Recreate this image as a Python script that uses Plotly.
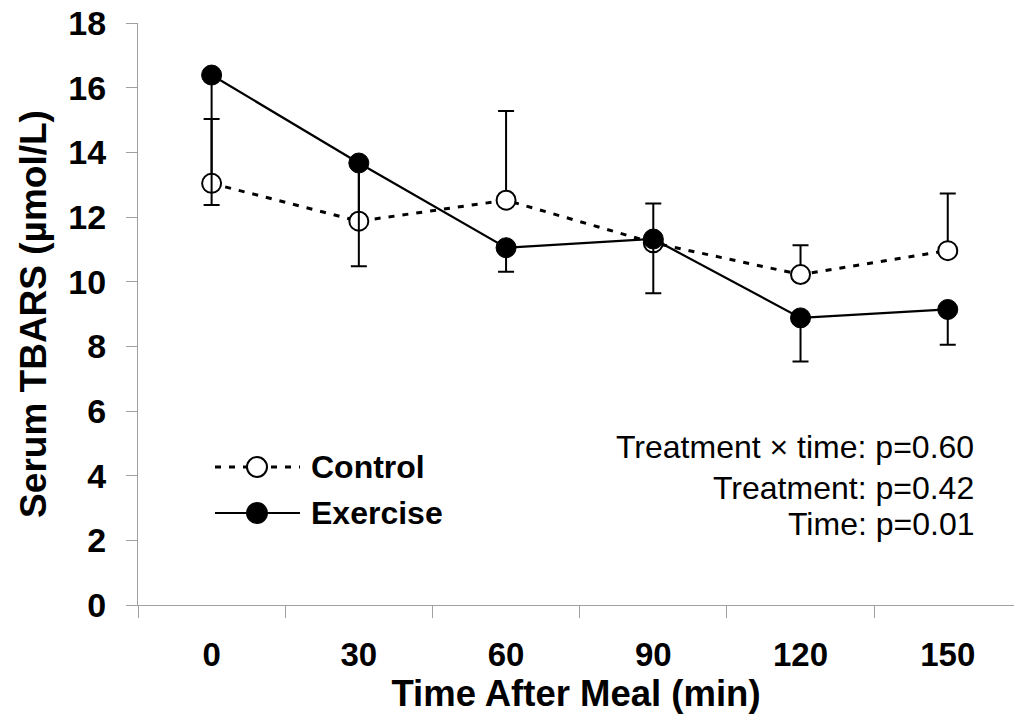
import plotly.graph_objects as go

times = ["0", "30", "60", "90", "120", "150"]
control_mean = [13.04, 11.87, 12.52, 11.20, 10.22, 10.96]
control_upper = [15.03, 13.60, 15.28, 12.42, 11.13, 12.73]
exercise_mean = [16.39, 13.67, 11.05, 11.32, 8.88, 9.14]
exercise_lower = [12.37, 10.48, 10.31, 9.64, 7.53, 8.05]

stats_lines = ["Treatment \u00d7 time: p=0.60", "Treatment: p=0.42", "Time: p=0.01"]
legend_names = ["Control", "Exercise"]

FONT = "Liberation Sans, Arial, sans-serif"
W, H = 1014, 728
ML, MR, MT, MB = 138, 0, 23, 123
PW, PH = W - ML - MR, H - MT - MB

def px2paper(px, py):
    return (px - ML) / PW, (H - MB - py) / PH

fig = go.Figure()
fig.add_trace(go.Scatter(
    x=times, y=control_mean, mode="lines+markers", name=legend_names[0],
    line=dict(color="black", width=3, dash="6px,8px"),
    marker=dict(symbol="circle", size=19, color="white", line=dict(color="black", width=2)),
    error_y=dict(type="data", symmetric=False,
                 array=[u - m for u, m in zip(control_upper, control_mean)],
                 arrayminus=[0] * len(times), color="black", thickness=2, width=8),
    showlegend=False,
))
fig.add_trace(go.Scatter(
    x=times, y=exercise_mean, mode="lines+markers", name=legend_names[1],
    line=dict(color="black", width=2.2),
    marker=dict(symbol="circle", size=20, color="black", line=dict(color="black", width=1)),
    error_y=dict(type="data", symmetric=False,
                 array=[0] * len(times),
                 arrayminus=[m - l for m, l in zip(exercise_mean, exercise_lower)],
                 color="black", thickness=2, width=8),
    showlegend=False,
))

shapes = []
annotations = []
# manual legend
for i, (name, py) in enumerate(zip(legend_names, [467, 513])):
    x0, y0 = px2paper(215, py)
    x1, _ = px2paper(300, py)
    cx, cy = px2paper(257, py)
    rx, ry = 10 / PW, 10 / PH
    shapes.append(dict(type="line", xref="paper", yref="paper", x0=x0, x1=x1, y0=y0, y1=y0,
                       line=dict(color="black", width=3 if i == 0 else 2.2,
                                 dash="6px,8px" if i == 0 else "solid")))
    shapes.append(dict(type="circle", xref="paper", yref="paper",
                       x0=cx - rx, x1=cx + rx, y0=cy - ry, y1=cy + ry,
                       fillcolor="white" if i == 0 else "black",
                       line=dict(color="black", width=2)))
    tx, ty = px2paper(309, py)
    annotations.append(dict(text=name, xref="paper", yref="paper", x=tx, y=ty,
                            xanchor="left", yanchor="middle", showarrow=False,
                            font=dict(family=FONT, size=32, color="black", weight="bold")))

for line, py in zip(stats_lines, [447, 488, 524]):
    tx, ty = px2paper(976, py)
    annotations.append(dict(text=line, xref="paper", yref="paper", x=tx, y=ty,
                            xanchor="right", yanchor="middle", showarrow=False,
                            font=dict(family=FONT, size=32, color="black")))

fig.update_layout(
    width=W, height=H,
    margin=dict(l=ML, r=MR, t=MT, b=MB, autoexpand=False),
    paper_bgcolor="white", plot_bgcolor="white",
    shapes=shapes, annotations=annotations,
    xaxis=dict(
        type="category", categoryorder="array", categoryarray=times,
        range=[-0.5, 5.45], tickson="boundaries", ticks="outside", ticklen=12,
        tickcolor="#a0a0a0", tickwidth=1, showline=True, linecolor="#a0a0a0", linewidth=1,
        showgrid=False, zeroline=False, automargin=False,
        tickfont=dict(family=FONT, size=33, color="black", weight="bold"),
        ticklabelstandoff=20,
        title=dict(text="Time After Meal (min)", standoff=4,
                   font=dict(family=FONT, size=36.5, color="black", weight="bold")),
    ),
    yaxis=dict(
        range=[0, 18], dtick=2, ticks="outside", ticklen=11, tickcolor="#a0a0a0", tickwidth=1,
        showline=True, linecolor="#a0a0a0", linewidth=1, showgrid=False, zeroline=False,
        automargin=False,
        tickfont=dict(family=FONT, size=34, color="black", weight="bold"),
        ticklabelstandoff=13,
        title=dict(text="Serum TBARS (\u00b5mol/L)", standoff=10,
                   font=dict(family=FONT, size=37, color="black", weight="bold")),
    ),
)

fig.write_html("out.html", config={"displayModeBar": False},
               post_script="document.body.style.margin='0';document.body.style.overflow='hidden';")
